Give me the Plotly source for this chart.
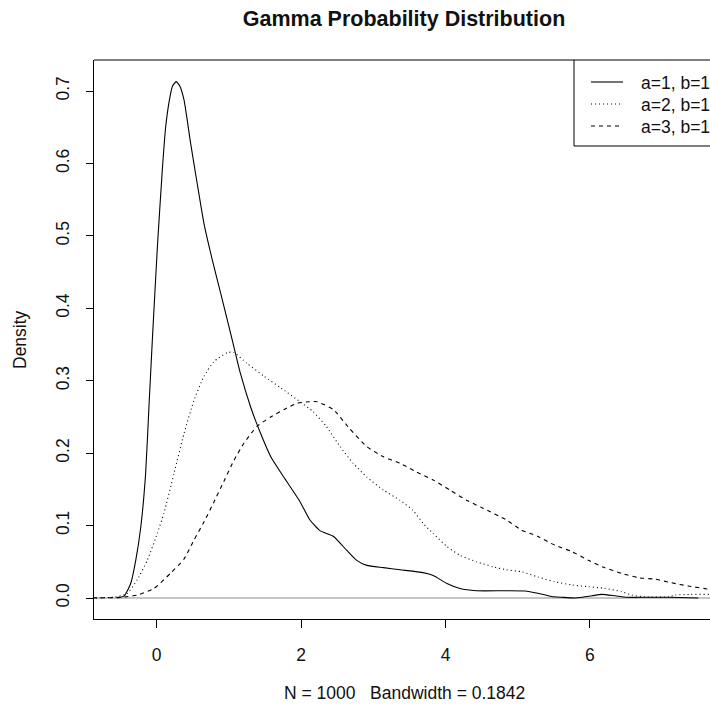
import plotly.graph_objects as go

# Kernel density estimates of three gamma samples (shape a, rate b)
x_a1 = [-0.55, -0.45, -0.36, -0.29, -0.22, -0.153, -0.107, -0.06, 0.01, 0.078, 0.125, 0.184,
        0.22, 0.27, 0.32, 0.378, 0.47, 0.56, 0.655, 0.77, 0.886, 1.047, 1.16, 1.30, 1.44, 1.58,
        1.76, 1.985, 2.12, 2.26, 2.45, 2.63, 2.77, 2.91, 3.14, 3.37, 3.69, 3.83, 4.02, 4.2,
        4.43, 4.84, 5.1, 5.28, 5.47, 5.61, 5.8, 6.03, 6.16, 6.35, 6.51, 6.8, 7.1, 7.5]
d_a1 = [0.0, 0.003, 0.02, 0.052, 0.098, 0.172, 0.264, 0.356, 0.485, 0.591, 0.651, 0.692,
        0.707, 0.713, 0.707, 0.688, 0.628, 0.573, 0.517, 0.467, 0.421, 0.356, 0.31, 0.264, 0.227, 0.195,
        0.167, 0.133, 0.108, 0.093, 0.085, 0.066, 0.052, 0.045, 0.042, 0.039, 0.035, 0.031, 0.020, 0.013,
        0.010, 0.010, 0.0097, 0.0065, 0.002, 0.001, 0.0, 0.003, 0.005, 0.003, 0.001, 0.001, 0.001, 0.0]

x_a2 = [-0.9, -0.6, -0.5, -0.41, -0.27, -0.13, 0.008, 0.10, 0.24, 0.378, 0.517, 0.655, 0.79,
        0.98, 1.07, 1.25, 1.49, 1.72, 1.985, 2.17, 2.35, 2.54, 2.72, 2.91, 3.14, 3.37, 3.55,
        3.69, 3.83, 4.02, 4.2, 4.43, 4.66, 4.84, 5.06, 5.28, 5.51, 5.75, 5.98, 6.2, 6.44,
        6.58, 6.75, 7.1, 7.18, 7.4, 7.66, 8.0]
d_a2 = [0.0, 0.001, 0.003, 0.006, 0.025, 0.052, 0.089, 0.117, 0.172, 0.227, 0.273, 0.306, 0.326,
        0.339, 0.339, 0.324, 0.306, 0.29, 0.271, 0.257, 0.237, 0.209, 0.186, 0.167, 0.149, 0.135, 0.121,
        0.103, 0.089, 0.071, 0.059, 0.050, 0.043, 0.039, 0.036, 0.029, 0.0225, 0.018, 0.0156, 0.0134, 0.0087,
        0.004, 0.0015, 0.0015, 0.004, 0.005, 0.005, 0.004]

x_a3 = [-1.0, -0.6, -0.4, -0.27, -0.04, 0.19, 0.38, 0.517, 0.655, 0.79, 0.93, 1.07, 1.21,
        1.39, 1.58, 1.76, 1.95, 2.12, 2.22, 2.45, 2.67, 2.91, 3.14, 3.37, 3.6, 3.83, 4.06,
        4.29, 4.52, 4.84, 5.05, 5.28, 5.51, 5.75, 5.98, 6.2, 6.44, 6.67, 6.9, 7.13, 7.36,
        7.66, 8.0]
d_a3 = [0.0, 0.0005, 0.002, 0.004, 0.013, 0.034, 0.054, 0.08, 0.105, 0.132, 0.161, 0.19, 0.214,
        0.237, 0.25, 0.26, 0.269, 0.271, 0.271, 0.26, 0.234, 0.209, 0.195, 0.186, 0.174, 0.163, 0.149,
        0.135, 0.124, 0.108, 0.094, 0.085, 0.073, 0.064, 0.052, 0.042, 0.034, 0.028, 0.026, 0.021, 0.0166,
        0.012, 0.008]

series_names = ["a=1, b=1", "a=2, b=1", "a=3, b=1"]
series_dash = ["solid", "1px,3px", "4px,4px"]
x_ticks = [0, 2, 4, 6]
y_ticks = [0.0, 0.1, 0.2, 0.3, 0.4, 0.5, 0.6, 0.7]

W, H = 710, 709
L, R, T, B = 94, 0, 60, 90
PW, PH = W - L - R, H - T - B
FONT = "Liberation Sans, Arial, sans-serif"
INK = "#111111"
FS = 17.5


def px(xp):
    return (xp - L) / PW


def py(yp):
    return (H - B - yp) / PH


fig = go.Figure()
for name, xs, ys, dash in zip(series_names, [x_a1, x_a2, x_a3], [d_a1, d_a2, d_a3], series_dash):
    fig.add_trace(go.Scatter(
        x=xs, y=ys, mode="lines", name=name, showlegend=False,
        line=dict(color="#000000", width=1.1, shape="spline", smoothing=0.5, dash=dash),
    ))

fig.update_layout(
    width=W, height=H,
    margin=dict(l=L, r=R, t=T, b=B, pad=0),
    paper_bgcolor="white", plot_bgcolor="white",
    font=dict(family=FONT, size=FS, color=INK),
    title=dict(text="<b>Gamma Probability Distribution</b>", x=404 / W, xanchor="center",
               y=1 - 18 / H, yanchor="middle", font=dict(size=21.5, family=FONT, color=INK)),
    showlegend=False,
)

fig.update_xaxes(
    range=[-0.868, 7.663], tickvals=x_ticks, ticktext=[str(v) for v in x_ticks],
    showgrid=False, zeroline=False, showline=True, linecolor="#000", linewidth=1,
    ticks="outside", ticklen=8, tickwidth=1, tickcolor="#000",
    ticklabelstandoff=12, tickfont=dict(size=FS, family=FONT, color=INK),
)
fig.update_yaxes(
    range=[-0.029, 0.7428], tickvals=y_ticks, ticktext=[f"{v:.1f}" for v in y_ticks],
    tickangle=-90, showgrid=False, zeroline=True, zerolinecolor="#c4c4c4", zerolinewidth=1.5,
    showline=True, linecolor="#000", linewidth=1,
    ticks="outside", ticklen=7, tickwidth=1, tickcolor="#000",
    ticklabelstandoff=10, tickfont=dict(size=FS, family=FONT, color=INK),
)

# top edge of the plot box and the legend frame
line_k = dict(color="#000", width=1)
fig.add_shape(type="line", xref="paper", yref="paper", x0=0, x1=1, y0=1, y1=1, line=line_k)
fig.add_shape(type="line", xref="paper", yref="paper", x0=px(574), x1=px(574), y0=1, y1=py(146), line=line_k)
fig.add_shape(type="line", xref="paper", yref="paper", x0=px(574), x1=1, y0=py(146), y1=py(146), line=line_k)

# legend entries: line sample + label
legend_rows = [82, 104, 126]
for name, dash, yrow in zip(series_names, series_dash, legend_rows):
    fig.add_shape(type="line", xref="paper", yref="paper", x0=px(591), x1=px(623),
                  y0=py(yrow), y1=py(yrow), line=dict(color="#000", width=1.1, dash=dash))
    fig.add_annotation(text=name, xref="paper", yref="paper", x=px(639), y=py(yrow + 1),
                       showarrow=False, xanchor="left", yanchor="middle",
                       font=dict(size=FS, family=FONT, color=INK))

fig.add_annotation(text="Density", xref="paper", yref="paper", x=px(20), y=py(340),
                   textangle=-90, showarrow=False, xanchor="center", yanchor="middle",
                   font=dict(size=FS, family=FONT, color=INK))
fig.add_annotation(text="N = 1000   Bandwidth = 0.1842", xref="paper", yref="paper",
                   x=px(404), y=py(693), showarrow=False, xanchor="center", yanchor="middle",
                   font=dict(size=FS, family=FONT, color=INK))

fig.write_html("out.html")
